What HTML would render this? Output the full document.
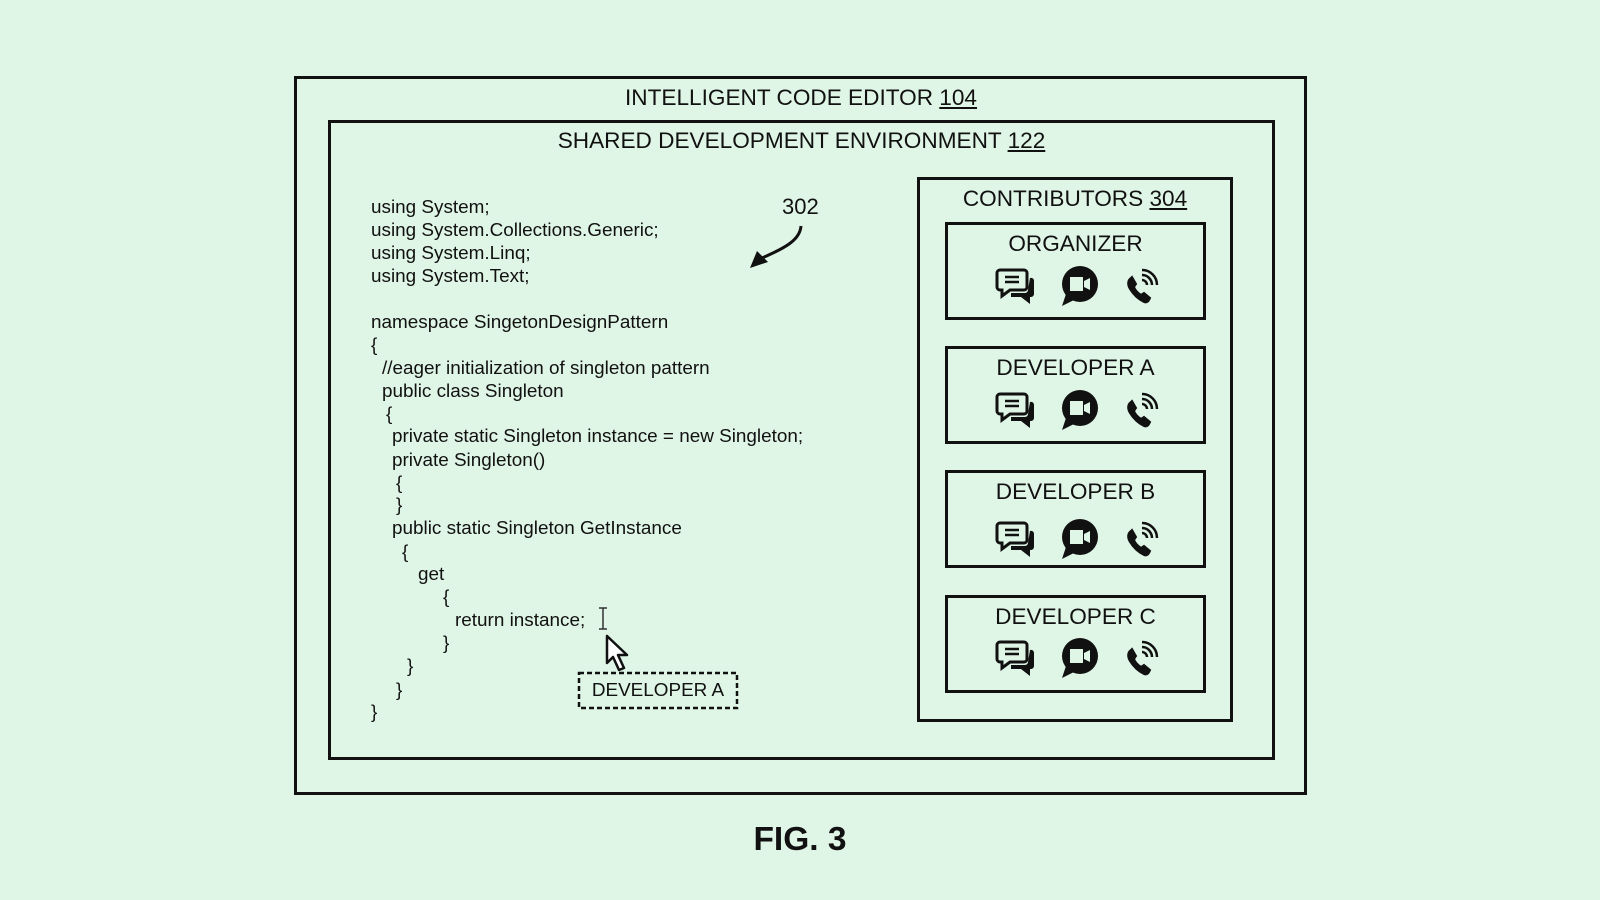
<!DOCTYPE html>
<html><head><meta charset="utf-8"><style>
html,body{margin:0;padding:0}
body{width:1600px;height:900px;background:#dff5e6;position:relative;overflow:hidden;font-family:"Liberation Sans",Arial,sans-serif;color:#111}
.box{position:absolute;border:3px solid #111;box-sizing:border-box}
.t{position:absolute;white-space:nowrap;line-height:1}
.c{position:absolute;white-space:nowrap;font-size:18.9px;line-height:20px}
.ctr{text-align:center;font-size:22.6px}
u{text-decoration:underline;text-underline-offset:2px}
</style></head><body>
<div class="box" style="left:294px;top:76px;width:1013px;height:719px"></div>
<div class="box" style="left:328px;top:120px;width:947px;height:640px"></div>
<div class="t ctr" style="left:300px;width:1002px;top:87px">INTELLIGENT CODE EDITOR <u>104</u></div>
<div class="t ctr" style="left:330px;width:943px;top:130px">SHARED DEVELOPMENT ENVIRONMENT <u>122</u></div>

<div class="box" style="left:917px;top:177px;width:316px;height:545px"></div>
<div class="t ctr" style="left:917px;width:316px;top:188px">CONTRIBUTORS <u>304</u></div>

<div class="box" style="left:945px;top:222px;width:261px;height:98px"></div>
<div class="t ctr" style="left:945px;width:261px;top:233px">ORGANIZER</div>
<div class="box" style="left:945px;top:346px;width:261px;height:98px"></div>
<div class="t ctr" style="left:945px;width:261px;top:357px">DEVELOPER A</div>
<div class="box" style="left:945px;top:470px;width:261px;height:98px"></div>
<div class="t ctr" style="left:945px;width:261px;top:481px">DEVELOPER B</div>
<div class="box" style="left:945px;top:595px;width:261px;height:98px"></div>
<div class="t ctr" style="left:945px;width:261px;top:606px">DEVELOPER C</div>

<svg width="1600" height="900" style="position:absolute;left:0;top:0">
<defs>
<g id="ic">
 <path d="M-18,-16 h24 a3,3 0 0 1 3,3 v14 a3,3 0 0 1 -3,3 h-14 l-8,6 v-6 h-2 a3,3 0 0 1 -3,-3 v-14 a3,3 0 0 1 3,-3z" fill="none" stroke="#111" stroke-width="3"/>
 <path d="M-13,-9 h14 M-13,-4 h14" stroke="#111" stroke-width="2.5"/>
 <path d="M12,-8 a3,3 0 0 1 4,3 v13 a3,3 0 0 1 -3,3 h-1 v7 l-9,-7 h-10 v-4 h14 a3,3 0 0 0 3,-3z" fill="#111"/>
 <g transform="translate(-4,0)">
 <circle cx="66" cy="-2" r="18" fill="#111"/>
 <path d="M52,8 l-4,12 l12,-6z" fill="#111"/>
 <rect x="56" y="-9" width="13" height="14" fill="#dff5e6"/>
 <path d="M70,-5 l6,-3 v12 l-6,-3z" fill="#dff5e6"/>
 <path d="M117,-8 c-3,2 -4,6 -1,11 c3,5 8,10 14,13 c2,1 4,0 5,-2 l1,-2 l-6,-5 l-3,2 c-3,-2 -6,-5 -7,-8 l2,-3 l-4,-7z" fill="#111" stroke="#111" stroke-width="2"/>
 <path d="M128,-6 a5,5 0 0 1 5,5 M128,-11 a10,10 0 0 1 10,10 M128,-16 a15,15 0 0 1 15,15" fill="none" stroke="#111" stroke-width="2.5"/>
 </g>
</g>
</defs>
<use href="#ic" x="1018" y="286"/>
<use href="#ic" x="1018" y="410"/>
<use href="#ic" x="1018" y="539"/>
<use href="#ic" x="1018" y="658"/>
<path d="M801,226 C800,240 785,248 762,258" fill="none" stroke="#111" stroke-width="3"/>
<path d="M750,268 L757,251 L768,262 Z" fill="#111"/>
<path d="M599,608 h8 M603,608 v21 M599,629 h8" stroke="#333" stroke-width="1.5" fill="none"/>
<path d="M607,636 L607,663 L613,657 L619,670 L624,668 L618,655 L627,655 Z" fill="#fff" stroke="#111" stroke-width="2.5" stroke-linejoin="round"/>
<rect x="579" y="673" width="158" height="35" fill="none" stroke="#111" stroke-width="2.5" stroke-dasharray="5,3"/>
</svg>
<div class="t" style="left:579px;width:158px;text-align:center;top:682px;font-size:18.9px">DEVELOPER A</div>
<div class="t" style="left:782px;top:196px;font-size:22px">302</div>

<div class="c" style="left:371px;top:198px">using System;</div>
<div class="c" style="left:371px;top:221px">using System.Collections.Generic;</div>
<div class="c" style="left:371px;top:244px">using System.Linq;</div>
<div class="c" style="left:371px;top:267px">using System.Text;</div>
<div class="c" style="left:371px;top:313px">namespace SingetonDesignPattern</div>
<div class="c" style="left:371px;top:336px">{</div>
<div class="c" style="left:382px;top:359px">//eager initialization of singleton pattern</div>
<div class="c" style="left:382px;top:382px">public class Singleton</div>
<div class="c" style="left:386px;top:405px">{</div>
<div class="c" style="left:392px;top:427px">private static Singleton instance = new Singleton;</div>
<div class="c" style="left:392px;top:451px">private Singleton()</div>
<div class="c" style="left:396px;top:474px">{</div>
<div class="c" style="left:396px;top:496px">}</div>
<div class="c" style="left:392px;top:519px">public static Singleton GetInstance</div>
<div class="c" style="left:402px;top:543px">{</div>
<div class="c" style="left:418px;top:565px">get</div>
<div class="c" style="left:443px;top:588px">{</div>
<div class="c" style="left:455px;top:611px">return instance;</div>
<div class="c" style="left:443px;top:634px">}</div>
<div class="c" style="left:407px;top:657px">}</div>
<div class="c" style="left:396px;top:681px">}</div>
<div class="c" style="left:371px;top:703px">}</div>

<div class="t" style="left:700px;width:200px;text-align:center;top:823px;font-size:33.5px;font-weight:bold">FIG. 3</div>
</body></html>
